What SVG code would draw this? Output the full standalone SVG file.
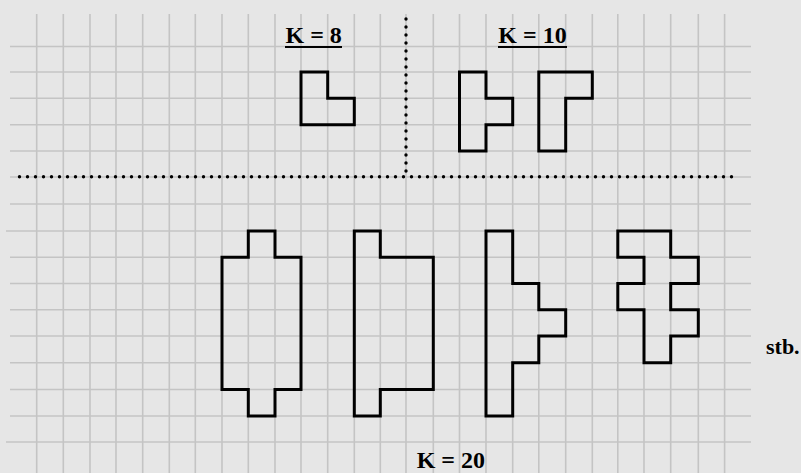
<svg xmlns="http://www.w3.org/2000/svg" width="801" height="473" viewBox="0 0 801 473">
<style>
.bg{fill:#e6e6e6}
.g line{stroke:#c4c4c4;stroke-width:1.6}
.dot{stroke:#000;stroke-width:3.4;stroke-linecap:round;stroke-dasharray:0 8;fill:none}
.shape{fill:none;stroke:#000;stroke-width:3;stroke-linejoin:miter}
.lbl{font-family:"Liberation Serif","Times New Roman",serif;font-weight:bold;font-size:24px;fill:#000}
.ul{stroke:#000;stroke-width:2.2}
</style>
<rect class="bg" x="0" y="0" width="801" height="473"/>
<g id="grid" class="g">
<line x1="36.7" y1="14" x2="36.7" y2="473"/>
<line x1="63.3" y1="14" x2="63.3" y2="473"/>
<line x1="90" y1="14" x2="90" y2="473"/>
<line x1="116" y1="14" x2="116" y2="473"/>
<line x1="142.7" y1="14" x2="142.7" y2="473"/>
<line x1="169.3" y1="14" x2="169.3" y2="473"/>
<line x1="195.3" y1="14" x2="195.3" y2="473"/>
<line x1="222" y1="14" x2="222" y2="473"/>
<line x1="248.3" y1="14" x2="248.3" y2="473"/>
<line x1="275" y1="14" x2="275" y2="473"/>
<line x1="301" y1="14" x2="301" y2="473"/>
<line x1="327.7" y1="14" x2="327.7" y2="473"/>
<line x1="354.3" y1="14" x2="354.3" y2="473"/>
<line x1="380.3" y1="14" x2="380.3" y2="473"/>
<line x1="406" y1="14" x2="406" y2="473"/>
<line x1="433.3" y1="14" x2="433.3" y2="473"/>
<line x1="459.5" y1="14" x2="459.5" y2="473"/>
<line x1="486" y1="14" x2="486" y2="473"/>
<line x1="512.7" y1="14" x2="512.7" y2="473"/>
<line x1="538.8" y1="14" x2="538.8" y2="473"/>
<line x1="565.7" y1="14" x2="565.7" y2="473"/>
<line x1="592.3" y1="14" x2="592.3" y2="473"/>
<line x1="617.8" y1="14" x2="617.8" y2="473"/>
<line x1="644" y1="14" x2="644" y2="473"/>
<line x1="670.7" y1="14" x2="670.7" y2="473"/>
<line x1="698.3" y1="14" x2="698.3" y2="473"/>
<line x1="724.6" y1="14" x2="724.6" y2="473"/>
<line x1="10" y1="46.5" x2="751" y2="46.5"/>
<line x1="10" y1="72" x2="751" y2="72"/>
<line x1="10" y1="98.3" x2="751" y2="98.3"/>
<line x1="10" y1="124.7" x2="751" y2="124.7"/>
<line x1="10" y1="151" x2="751" y2="151"/>
<line x1="10" y1="177" x2="751" y2="177"/>
<line x1="10" y1="204" x2="751" y2="204"/>
<line x1="6" y1="231" x2="751" y2="231"/>
<line x1="10" y1="257.3" x2="751" y2="257.3"/>
<line x1="10" y1="283.5" x2="751" y2="283.5"/>
<line x1="10" y1="309.7" x2="751" y2="309.7"/>
<line x1="10" y1="336" x2="751" y2="336"/>
<line x1="10" y1="362.8" x2="751" y2="362.8"/>
<line x1="10" y1="389.5" x2="751" y2="389.5"/>
<line x1="10" y1="416" x2="751" y2="416"/>
<line x1="6" y1="442" x2="751" y2="442"/>
</g>
<g id="connectors">
<line class="dot" x1="19.5" y1="176.7" x2="732" y2="176.7"/>
<line class="dot" x1="406" y1="19" x2="406" y2="172"/>
</g>
<g id="label-k8">
<text class="lbl" x="285.5" y="43.3">K = 8</text>
<line class="ul" x1="285" y1="47" x2="342" y2="47"/>
</g>
<g id="label-k10">
<text class="lbl" x="498.3" y="43.3">K = 10</text>
<line class="ul" x1="498" y1="47" x2="567" y2="47"/>
</g>
<g id="shape-k8">
<path class="shape" d="M301 72 H327.7 V98.3 H354.3 V124.7 H301 Z"/>
</g>
<g id="shape-k10-a">
<path class="shape" d="M459.5 72 H486 V98.3 H512.7 V124.7 H486 V151 H459.5 Z"/>
</g>
<g id="shape-k10-b">
<path class="shape" d="M538.8 72 H592.3 V98.3 H565.7 V151 H538.8 Z"/>
</g>
<g id="shape-k20-a">
<path class="shape" d="M248.3 231 H275 V257.3 H301 V389.5 H275 V416 H248.3 V389.5 H222 V257.3 H248.3 Z"/>
</g>
<g id="shape-k20-b">
<path class="shape" d="M354.3 231 H380.3 V257.3 H433.3 V389.5 H380.3 V416 H354.3 Z"/>
</g>
<g id="shape-k20-c">
<path class="shape" d="M486 231 H512.7 V283.5 H538.8 V309.7 H565.7 V336 H538.8 V362.8 H512.7 V416 H486 Z"/>
</g>
<g id="shape-k20-d">
<path class="shape" d="M617.8 231 H670.7 V257.3 H698.3 V283.5 H670.7 V309.7 H698.3 V336 H670.7 V362.8 H644 V309.7 H617.8 V283.5 H644 V257.3 H617.8 Z"/>
</g>
<g id="label-stb">
<text class="lbl" x="766" y="354" style="font-size:22px">stb.</text>
</g>
<g id="label-k20">
<text class="lbl" x="416.7" y="468">K = 20</text>
</g>
</svg>
